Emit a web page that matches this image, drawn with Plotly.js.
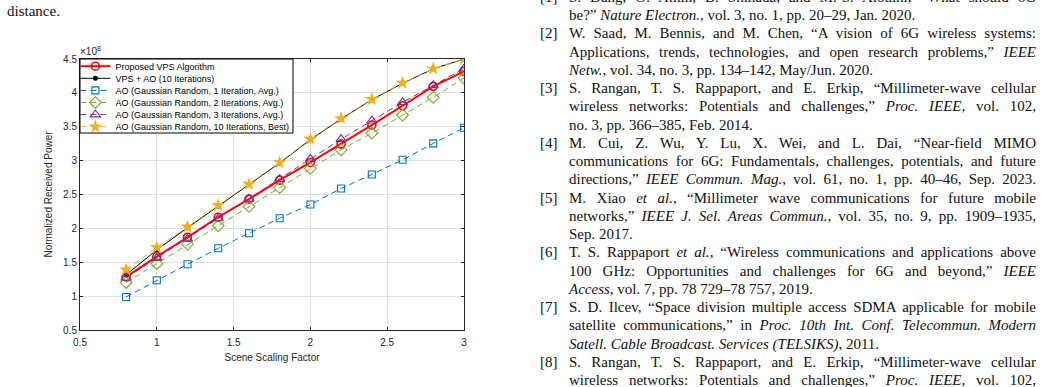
<!DOCTYPE html>
<html>
<head>
<meta charset="utf-8">
<script src="https://cdn.plot.ly/plotly-3.0.1.min.js"></script>
<style>
  html, body { margin: 0; padding: 0; background: #fff; width: 1042px; height: 387px; overflow: hidden; position: relative; }
  #chart { position: absolute; left: 0; top: 0; width: 520px; height: 387px; }
  .tl { position: absolute; font-family: "Liberation Serif", "Times New Roman", serif; font-size: 15px; color: #111; white-space: nowrap; height: 18px; line-height: 18px; }
  .lab { position: absolute; font-family: "Liberation Serif", "Times New Roman", serif; font-size: 15px; color: #111; white-space: nowrap; line-height: 18px; }
</style>
</head>
<body>
<div id="chart"></div>
<div id="page"></div>
<script>
// ---------- data (received power in units of 1e8) ----------
const scaleFactor = [0.8, 1.0, 1.2, 1.4, 1.6, 1.8, 2.0, 2.2, 2.4, 2.6, 2.8, 3.0];
const proposedVPS = [1.283, 1.584, 1.869, 2.165, 2.431, 2.712, 2.973, 3.244, 3.525, 3.810, 4.096, 4.318];
const vpsPlusAO   = [1.314, 1.683, 2.010, 2.330, 2.645, 2.965, 3.310, 3.615, 3.900, 4.140, 4.355, 4.500];
const ao1Iter     = [0.988, 1.234, 1.470, 1.707, 1.929, 2.150, 2.352, 2.589, 2.796, 3.012, 3.254, 3.485];
const ao2Iter     = [1.200, 1.480, 1.766, 2.037, 2.323, 2.603, 2.884, 3.160, 3.406, 3.672, 3.933, 4.219];
const ao3Iter     = [1.270, 1.564, 1.845, 2.145, 2.436, 2.727, 3.027, 3.318, 3.589, 3.860, 4.111, 4.357];
const ao10Best    = [1.390, 1.717, 2.022, 2.342, 2.653, 2.973, 3.318, 3.623, 3.904, 4.145, 4.357, 4.500];
const seriesNames = [
  "Proposed VPS Algorithm",
  "VPS + AO (10 Iterations)",
  "AO (Gaussian Random, 1 Iteration, Avg.)",
  "AO (Gaussian Random, 2 Iterations, Avg.)",
  "AO (Gaussian Random, 3 Iterations, Avg.)",
  "AO (Gaussian Random, 10 Iterations, Best)"
];
const xTicks = [0.5, 1, 1.5, 2, 2.5, 3];
const yTicks = [0.5, 1, 1.5, 2, 2.5, 3, 3.5, 4, 4.5];
const exponentLabel = "×10<sup>8</sup>";
const xTitle = "Scene Scaling Factor";
const yTitle = "Normalized Received Power";

// ---------- styles ----------
const styles = [
  {color: "#FF0000", width: 2, dash: "solid", symbol: "circle-open", size: 8, mlw: 1.6},
  {color: "#000000", width: 1, dash: "solid", symbol: "circle", size: 5, mlw: 0},
  {color: "#0072BD", width: 1, dash: "6px,4px", symbol: "square-open", size: 7, mlw: 1.1},
  {color: "#77AC30", width: 1, dash: "6px,4px", symbol: "diamond-open", size: 9, mlw: 1.1},
  {color: "#7E2F8E", width: 1, dash: "6px,4px", symbol: "triangle-up-open", size: 9, mlw: 1.1},
  {color: "#EDB120", width: 1, dash: "6px,4px", symbol: "star", size: 10.5, mlw: 0}
];
const ySeries = [proposedVPS, vpsPlusAO, ao1Iter, ao2Iter, ao3Iter, ao10Best];
const legendIds = ["legend", "legend2", "legend3", "legend4", "legend5", "legend6"];

const traces = ySeries.map((ys, i) => ({
  type: "scatter", mode: "lines+markers",
  x: scaleFactor, y: ys, name: seriesNames[i],
  legend: legendIds[i],
  line: {color: styles[i].color, width: styles[i].width, dash: styles[i].dash},
  marker: {symbol: styles[i].symbol, size: styles[i].size, color: styles[i].color,
           line: {color: styles[i].color, width: styles[i].mlw}}
}));

// plot area: left 80, right 464, top 59, bottom 330 (px)
const plotH = 271;
const legTop = 59, rowH = 12.1, firstRow = 66.2;
const layout = {
  width: 520, height: 387,
  margin: {l: 80, r: 56, t: 59, b: 57},
  paper_bgcolor: "#fff", plot_bgcolor: "#fff",
  font: {family: "Liberation Sans, Arial, sans-serif", size: 10, color: "#262626"},
  xaxis: {
    range: [0.5, 3], tickvals: xTicks, ticktext: xTicks.map(String),
    showgrid: true, gridcolor: "#dfdfdf", gridwidth: 1, zeroline: false,
    showline: true, linecolor: "#262626", linewidth: 1, mirror: "ticks",
    ticks: "inside", ticklen: 3, tickcolor: "#262626",
    ticklabelstandoff: 3,
    tickfont: {size: 10, color: "#262626"},
    title: {text: xTitle, font: {size: 10, color: "#262626"}, standoff: 6}
  },
  yaxis: {
    range: [0.5, 4.5], tickvals: yTicks, ticktext: yTicks.map(String),
    showgrid: true, gridcolor: "#dfdfdf", gridwidth: 1, zeroline: false,
    showline: true, linecolor: "#262626", linewidth: 1, mirror: "ticks",
    ticks: "inside", ticklen: 3, tickcolor: "#262626",
    tickfont: {size: 10, color: "#262626"},
    title: {text: yTitle, font: {size: 10, color: "#262626"}, standoff: 8}
  },
  annotations: [{
    text: exponentLabel, xref: "paper", yref: "paper", x: 0, y: 1,
    xanchor: "left", yanchor: "bottom", showarrow: false, yshift: 0, xshift: -2,
    font: {size: 10, color: "#262626"}
  }],
  shapes: [{
    type: "rect", xref: "paper", yref: "paper", layer: "above",
    x0: 0.0, x1: (293 - 80) / 384, y0: 1 - (133 - 59) / plotH, y1: 1,
    fillcolor: "#ffffff", line: {color: "#000000", width: 1}
  }],
  showlegend: true
};
legendIds.forEach((id, k) => {
  layout[id] = {
    x: -0.012, xanchor: "left",
    y: 1 - (firstRow + rowH * k - legTop) / plotH, yanchor: "middle",
    bgcolor: "rgba(0,0,0,0)", borderwidth: 0,
    font: {size: 9, color: "#000", family: "Liberation Sans, Arial, sans-serif"},
    itemwidth: 30
  };
});

Plotly.newPlot("chart", traces, layout, {displayModeBar: false, staticPlot: true});

// ---------- surrounding page text ----------
const leftText = [{text: "distance.", x: 7, y: 11}];
const refLines = [
  ["[1]", "S. Dang, O. Amin, B. Shihada, and M.-S. Alouini, “What should 6G", true],
  ["", "be?” <i>Nature Electron.</i>, vol. 3, no. 1, pp. 20–29, Jan. 2020.", false],
  ["[2]", "W. Saad, M. Bennis, and M. Chen, “A vision of 6G wireless systems:", true],
  ["", "Applications, trends, technologies, and open research problems,” <i>IEEE</i>", true],
  ["", "<i>Netw.</i>, vol. 34, no. 3, pp. 134–142, May/Jun. 2020.", false],
  ["[3]", "S. Rangan, T. S. Rappaport, and E. Erkip, “Millimeter-wave cellular", true],
  ["", "wireless networks: Potentials and challenges,” <i>Proc. IEEE</i>, vol. 102,", true],
  ["", "no. 3, pp. 366–385, Feb. 2014.", false],
  ["[4]", "M. Cui, Z. Wu, Y. Lu, X. Wei, and L. Dai, “Near-field MIMO", true],
  ["", "communications for 6G: Fundamentals, challenges, potentials, and future", true],
  ["", "directions,” <i>IEEE Commun. Mag.</i>, vol. 61, no. 1, pp. 40–46, Sep. 2023.", true],
  ["[5]", "M. Xiao <i>et al.</i>, “Millimeter wave communications for future mobile", true],
  ["", "networks,” <i>IEEE J. Sel. Areas Commun.</i>, vol. 35, no. 9, pp. 1909–1935,", true],
  ["", "Sep. 2017.", false],
  ["[6]", "T. S. Rappaport <i>et al.</i>, “Wireless communications and applications above", true],
  ["", "100 GHz: Opportunities and challenges for 6G and beyond,” <i>IEEE</i>", true],
  ["", "<i>Access</i>, vol. 7, pp. 78 729–78 757, 2019.", false],
  ["[7]", "S. D. Ilcev, “Space division multiple access SDMA applicable for mobile", true],
  ["", "satellite communications,” in <i>Proc. 10th Int. Conf. Telecommun. Modern</i>", true],
  ["", "<i>Satell. Cable Broadcast. Services (TELSIKS)</i>, 2011.", false],
  ["[8]", "S. Rangan, T. S. Rappaport, and E. Erkip, “Millimeter-wave cellular", true],
  ["", "wireless networks: Potentials and challenges,” <i>Proc. IEEE</i>, vol. 102,", true]
];
const page = document.getElementById("page");
leftText.forEach(t => {
  const d = document.createElement("div");
  d.className = "lab"; d.style.left = t.x + "px"; d.style.top = (t.y - 9) + "px";
  d.innerHTML = t.text; page.appendChild(d);
});
const colLeft = 569, colRight = 1036, labLeft = 540, lineStep = 18.25, firstCenter = -3.25;
refLines.forEach((ln, k) => {
  const cy = firstCenter + lineStep * k;
  if (ln[0]) {
    const l = document.createElement("div");
    l.className = "lab"; l.style.left = labLeft + "px"; l.style.top = (cy - 9) + "px";
    l.textContent = ln[0]; page.appendChild(l);
  }
  const d = document.createElement("div");
  d.className = "tl"; d.style.left = colLeft + "px"; d.style.top = (cy - 9) + "px";
  d.innerHTML = ln[1]; page.appendChild(d);
  if (ln[2]) {
    const target = colRight - colLeft;
    const natural = d.getBoundingClientRect().width;
    const spaces = (d.textContent.match(/ /g) || []).length;
    if (spaces > 0) d.style.wordSpacing = ((target - natural) / spaces) + "px";
  }
});
</script>
</body>
</html>
